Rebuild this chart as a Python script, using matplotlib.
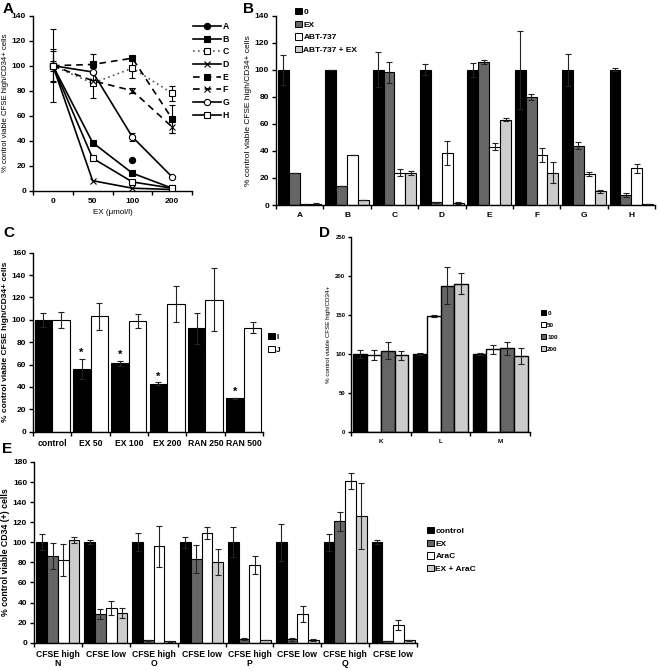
import numpy as np
import matplotlib
matplotlib.use("Agg")
import matplotlib.pyplot as plt
from matplotlib.patches import Patch
from matplotlib.lines import Line2D

plt.rcParams['font.family'] = ['Liberation Sans', 'DejaVu Sans']
plt.rcParams['axes.linewidth'] = 1.0

W, H = 659, 671

# ---- panel A data ----
a_doses = ['0', '50', '100', '200']
a_lines = {
    'A': [100, np.nan, 24.5, np.nan],
    'B': [100, 38.5, 14, 2],
    'C': [100, 86, 98, 78],
    'D': [100, 8, 2, 1],
    'E': [100, 101, 106, 57.5],
    'F': [100, 88, 80, 51],
    'G': [100, 95, 43, 11],
    'H': [100, 26, 7, 2],
}
a_errs = {
    'C': [29, 12, 8, 6],
    'E': [13, 8, 0, 11],
    'F': [12, 0, 2, 5],
    'G': [4, 0, 3, 0],
}

# ---- panel B data ----
b_groups = ['A', 'B', 'C', 'D', 'E', 'F', 'G', 'H']
b_series = ['0', 'EX', 'ABT-737', 'ABT-737 + EX']
b_vals = [
    [100, 100, 100, 100, 100, 100, 100, 100],
    [24, 14, 98, 2, 106, 80, 44, 7.5],
    [0.5, 37, 24, 38.5, 43, 37, 23, 27],
    [1, 3.5, 24, 1.5, 63, 24, 10, 0.5],
]
b_errs = [
    [11, 0, 13, 4, 5, 29, 12, 1],
    [0, 0, 8, 0.5, 1.5, 2, 2.5, 1.5],
    [0, 0, 2.5, 9, 2.5, 5, 1.5, 3],
    [0.5, 0, 1.5, 0.5, 1, 8, 1, 0],
]

# ---- panel C data ----
c_groups = ['control', 'EX 50', 'EX 100', 'EX 200', 'RAN 250', 'RAN 500']
c_series = ['I', 'J']
c_vals = [
    [100, 56, 61, 43, 92.5, 30],
    [100, 103, 99, 114, 118, 93],
]
c_errs = [
    [6, 9, 2.5, 1, 14, 0.5],
    [7, 12, 6, 16, 28, 5],
]
c_star = [False, True, True, True, False, True]

# ---- panel D data ----
d_groups = ['K', 'L', 'M']
d_series = ['0', '50', '100', '200']
d_vals = [
    [100, 100, 100],
    [98.5, 148.5, 106],
    [104, 188, 107],
    [98, 190.5, 97.5],
]
d_errs = [
    [5, 1, 1],
    [6, 1, 6],
    [11, 24, 8],
    [6, 13, 10],
]

# ---- panel E data ----
e_groups = ['CFSE high\nN', 'CFSE low', 'CFSE high\nO', 'CFSE low',
            'CFSE high\nP', 'CFSE low', 'CFSE high\nQ', 'CFSE low']
e_series = ['control', 'EX', 'AraC', 'EX + AraC']
e_vals = [
    [100, 100, 100, 100, 100, 100, 100, 100],
    [86, 28.5, 2.4, 83, 3.7, 3.4, 121, 2],
    [82, 35, 96, 109, 77, 28.5, 161, 17.5],
    [102.5, 29.5, 1.4, 80, 2.4, 3, 126, 2.3],
]
e_errs = [
    [8, 2, 9, 5.5, 15, 18.5, 8.5, 2],
    [13, 5, 0.5, 14, 1, 1.5, 9.5, 0],
    [16, 7, 20.5, 6, 9, 7.8, 8, 4.7],
    [3, 5, 0.3, 13, 0, 1, 33, 0.5],
]

colors4 = ['black', '#666666', 'white', '#cccccc']


def axrect(l, t, r, b):
    return [l / W, 1 - b / H, (r - l) / W, (b - t) / H]


def style(ax, fs):
    ax.spines['top'].set_visible(False)
    ax.spines['right'].set_visible(False)
    ax.tick_params(axis='y', direction='out', length=3, width=1, labelsize=fs, pad=2)
    ax.tick_params(axis='x', which='major', direction='out', length=3, width=1)
    for lab in ax.get_yticklabels():
        lab.set_fontweight('bold')


def cat_axis(ax, labels, fs):
    n = len(labels)
    ax.set_xlim(-0.5, n - 0.5)
    ax.set_xticks(np.arange(n + 1) - 0.5)
    ax.set_xticklabels([])
    ax.set_xticks(np.arange(n), minor=True)
    ax.set_xticklabels(labels, minor=True, fontsize=fs, fontweight='bold')
    ax.tick_params(axis='x', which='minor', length=0, pad=5)


def bars(ax, vals, errs, colors, width, lw=0.8, cap=2):
    n = len(vals)
    x = np.arange(len(vals[0]))
    for i in range(n):
        off = (i - (n - 1) / 2) * width
        ax.bar(x + off, vals[i], width, color=colors[i], edgecolor='black', linewidth=lw,
               yerr=errs[i], capsize=cap,
               error_kw=dict(elinewidth=0.8, capthick=0.8, ecolor='#222222'), zorder=2)


def legend_patches(ax, labels, colors, x, y, fs, spacing):
    handles = [Patch(facecolor=c, edgecolor='black', linewidth=0.7) for c in colors]
    ax.legend(handles, labels, loc='upper left', bbox_to_anchor=(x / W, 1 - y / H),
              bbox_transform=fig.transFigure, frameon=False,
              handlelength=0.8, handleheight=0.8, handletextpad=0.2,
              labelspacing=spacing, borderpad=0, borderaxespad=0,
              prop=dict(size=fs, weight='bold'))


fig = plt.figure(figsize=(W / 100, H / 100), dpi=100)

# ---------- A ----------
axA = fig.add_axes(axrect(33, 15.7, 192, 190.7))
xA = np.arange(len(a_doses))
styles = {
    'A': dict(ls='-', marker='o', mfc='black'),
    'B': dict(ls='-', marker='s', mfc='black'),
    'C': dict(ls=(0, (1, 2)), marker='s', mfc='white', color='#555555'),
    'D': dict(ls='-', marker='x', mfc='black'),
    'E': dict(ls=(0, (4, 3)), marker='s', mfc='black'),
    'F': dict(ls=(0, (4, 3)), marker='x', mfc='black'),
    'G': dict(ls='-', marker='o', mfc='white'),
    'H': dict(ls='-', marker='s', mfc='white'),
}
handlesA = []
for name, vals in a_lines.items():
    st = dict(color='black', lw=1.2, ms=4.5, mec='black', mew=0.8)
    st.update(styles[name])
    axA.plot(xA, vals, zorder=3, **st)
    if name in a_errs:
        axA.errorbar(xA, vals, yerr=a_errs[name], fmt='none', ecolor='black',
                     elinewidth=0.8, capsize=2, capthick=0.8, zorder=2)
    handlesA.append(Line2D([], [], **st))
axA.set_ylim(0, 140)
axA.set_yticks(range(0, 141, 20))
cat_axis(axA, a_doses, 6)
style(axA, 6)
axA.set_xlabel('EX (\u03bcmol/l)', fontsize=5.8, labelpad=3)
axA.set_ylabel('% control viable CFSE high/CD34+ cells', fontsize=5.6, labelpad=2)
axA.legend(handlesA, list(a_lines.keys()), loc='upper left', bbox_to_anchor=(193 / W, 1 - 22 / H),
           bbox_transform=fig.transFigure, frameon=False, handlelength=3.2,
           handletextpad=0.15, labelspacing=0.42, borderpad=0, borderaxespad=0,
           prop=dict(size=6.3, weight='bold'))

# ---------- B ----------
axB = fig.add_axes(axrect(276, 15.7, 655, 205))
bars(axB, b_vals, b_errs, colors4, 0.23)
axB.set_ylim(0, 140)
axB.set_yticks(range(0, 141, 20))
cat_axis(axB, b_groups, 6)
style(axB, 6)
axB.set_ylabel('% control viable CFSE high/CD34+ cells', fontsize=6, labelpad=2)
legend_patches(axB, b_series, colors4, 295, 8, 6, 0.55)

# ---------- C ----------
axC = fig.add_axes(axrect(33, 252.7, 263, 431.7))
bars(axC, c_vals, c_errs, ['black', 'white'], 0.46)
for i, s in enumerate(c_star):
    if s:
        axC.text(i - 0.23, c_vals[0][i] + c_errs[0][i] + 1, '*', ha='center', va='bottom',
                 fontsize=8, fontweight='bold')
axC.set_ylim(0, 160)
axC.set_yticks(range(0, 161, 20))
cat_axis(axC, c_groups, 6.2)
style(axC, 6)
axC.set_ylabel('% control viable CFSE high/CD34+ cells', fontsize=6, labelpad=2, fontweight='bold')
legend_patches(axC, c_series, ['black', 'white'], 268, 333, 6, 0.55)

# ---------- D ----------
axD = fig.add_axes(axrect(351, 237.3, 530, 431.7))
bars(axD, d_vals, d_errs, ['black', 'white', '#666666', '#cccccc'], 0.23, lw=1.0)
axD.set_ylim(0, 250)
axD.set_yticks(range(0, 251, 50))
cat_axis(axD, d_groups, 4.5)
style(axD, 4.3)
axD.tick_params(axis='y', length=2)
axD.set_ylabel('% control viable CFSE high/CD34+', fontsize=4.5, labelpad=3)
legend_patches(axD, d_series, ['black', 'white', '#666666', '#cccccc'], 541, 310, 4.5, 1.05)

# ---------- E ----------
axE = fig.add_axes(axrect(34, 462, 417, 642.7))
bars(axE, e_vals, e_errs, colors4, 0.225)
axE.set_ylim(0, 180)
axE.set_yticks(range(0, 181, 20))
cat_axis(axE, e_groups, 6.2)
axE.tick_params(axis='x', which='minor', pad=5)
for lab in axE.get_xticklabels(minor=True):
    lab.set_linespacing(1.1)
style(axE, 6)
axE.set_ylabel('% control viable CD34 (+) cells', fontsize=6.3, labelpad=2, fontweight='bold')
legend_patches(axE, e_series, colors4, 427, 527, 6, 0.55)

# ---------- panel letters ----------
for letter, (px, py) in {'A': (3, 2), 'B': (243, 2), 'C': (3, 226), 'D': (319, 226), 'E': (2, 442)}.items():
    fig.text(px / W, 1 - py / H, letter, fontsize=11, fontweight='bold', va='top', ha='left')

fig.savefig('out.png', dpi=100)
